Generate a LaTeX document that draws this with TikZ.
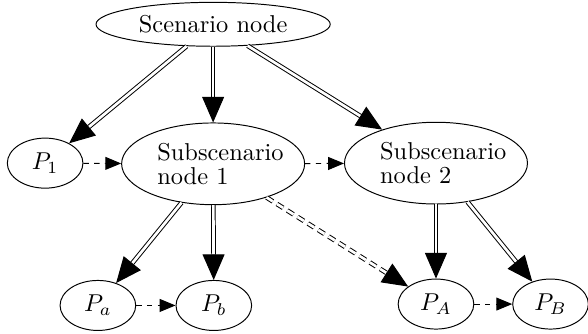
\documentclass[tikz,border=0pt]{standalone}
\usepackage{amsmath, amssymb}
\usepackage{tikz}
\usetikzlibrary{arrows.meta, positioning, shapes.geometric, calc}

\begin{document}
\begin{tikzpicture}[
    pnode/.style={ellipse, draw, inner sep=0pt, minimum width=31pt, minimum height=20.5pt},
    subnode/.style={ellipse, draw, inner ysep=0pt, inner xsep=-3pt, minimum width=75pt, minimum height=33.5pt, align=left},
    dbl/.style={double, double distance=1.1pt, -{Triangle[length=10.5pt, width=9pt]}},
    seq/.style={dash pattern=on 2.2pt off 2.2pt, -{Triangle[length=6.5pt, width=5.3pt]}}
]
\useasboundingbox (0,0) rectangle (8.47,4.80);

% Scenario node
\node[ellipse, draw, inner sep=0pt, minimum width=96pt, minimum height=18pt] (scen) at (3.07,4.45) {Scenario node};

% Subscenario nodes
\node[subnode] (sub1) at (3.07,2.44) {\hspace*{6pt}Subscenario\\[-2pt]\hspace*{6pt}node 1};
\node[subnode] (sub2) at (6.28,2.45) {\hspace*{6pt}Subscenario\\[-2pt]\hspace*{6pt}node 2};

% Parameter nodes
\node[pnode] (p1) at (0.65,2.45) {$P_1$};
\node[pnode] (pa) at (1.41,0.40) {$P_a$};
\node[pnode] (pb) at (3.08,0.40) {$P_b$};
\node[pnode] (pA) at (6.28,0.42) {$P_A$};
\node[pnode] (pB) at (7.93,0.42) {$P_B$};

% Hierarchy arrows
\draw[dbl] (scen) -- (p1);
\draw[dbl] (scen) -- (sub1);
\draw[dbl] (scen) -- (sub2);
\draw[dbl] (sub1) -- (pa);
\draw[dbl] (sub1) -- (pb);
\draw[dbl] (sub2) -- (pA);
\draw[dbl] (sub2) -- (pB);
\draw[dbl, dash pattern=on 3pt off 2pt] (sub1) -- (pA);

% Sequence arrows
\draw[seq] (p1) -- (sub1);
\draw[seq] (sub1) -- (sub2);
\draw[seq] (pa) -- (pb);
\draw[seq] (pA) -- (pB);
\end{tikzpicture}
\end{document}
